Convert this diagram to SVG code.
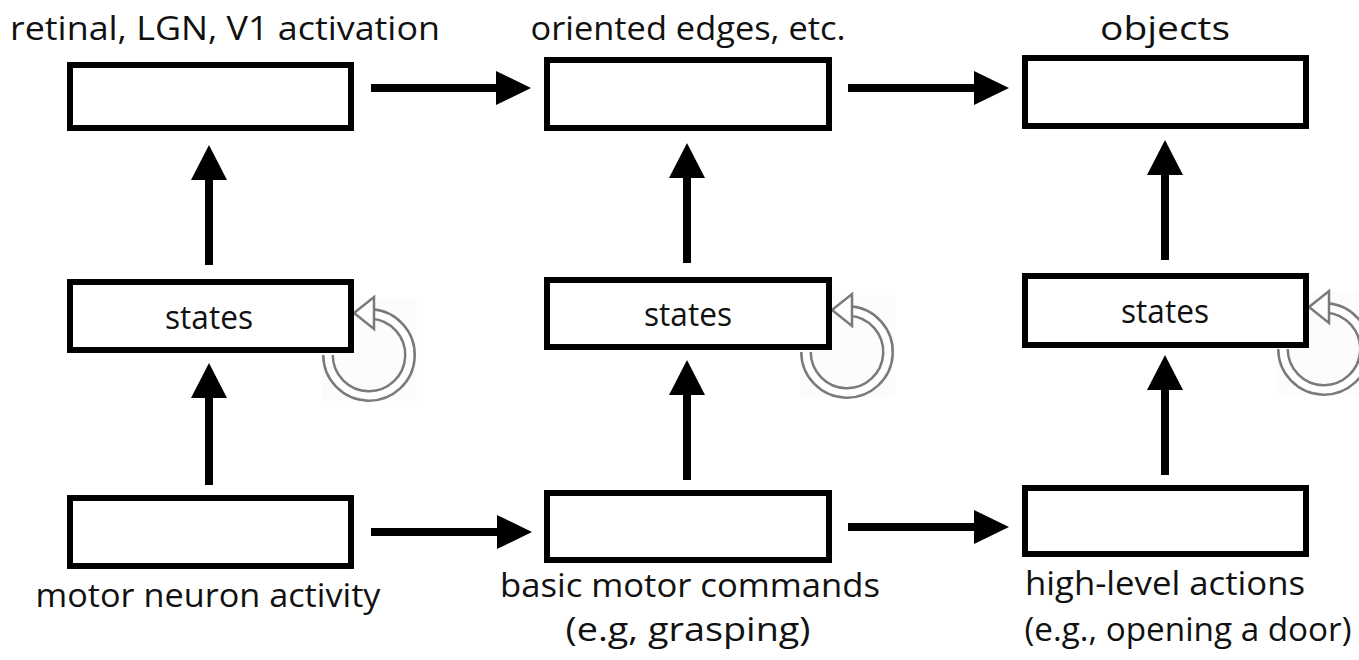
<svg xmlns="http://www.w3.org/2000/svg" width="1359" height="660" viewBox="0 0 1359 660">
  <defs>
    <style>
      .box { fill: #ffffff; stroke: #000000; stroke-width: 6; }
      .lbl { font-family: "Open Sans", Lato, "Liberation Sans", sans-serif; font-size: 33px; fill: #111111; text-anchor: middle; }
      .link { stroke: #000000; stroke-width: 8; fill: none; }
      .head { fill: #000000; }
      .ring-out { fill: none; stroke: #7a7a7a; stroke-width: 12; }
      .ring-in { fill: none; stroke: #ffffff; stroke-width: 7; }
      .tri { fill: #ffffff; stroke: #7a7a7a; stroke-width: 2.5; stroke-linejoin: miter; }
      .pad { fill: #fcfcfc; }
    </style>
    <!-- recurrent loop icon, centred on its ring -->
    <g id="loop">
      <rect class="pad" x="-47" y="-57" width="95" height="103"/>
      <path class="ring-out" d="M 3 -41 A 41 41 0 1 1 -41 0"/>
      <path class="ring-in" d="M 3 -41 A 41 41 0 1 1 -41 0"/>
      <path class="tri" d="M -15 -42 L 5 -58 L 5 -26 Z"/>
    </g>
  </defs>

  <!-- self-loops drawn first so the state boxes sit on top -->
  <g id="loops">
    <use href="#loop" x="369" y="355"/>
    <use href="#loop" x="847" y="352"/>
    <use href="#loop" x="1324" y="349"/>
  </g>

  <g id="connectors">
    <!-- top row, left to right -->
    <line class="link" x1="371" y1="88" x2="500" y2="88"/>
    <polygon class="head" points="496,71 531,88 496,105"/>
    <line class="link" x1="848" y1="88" x2="978" y2="88"/>
    <polygon class="head" points="974,71 1009,88 974,105"/>
    <!-- bottom row, left to right -->
    <line class="link" x1="371" y1="532" x2="500" y2="532"/>
    <polygon class="head" points="497,515 532,532 497,549"/>
    <line class="link" x1="848" y1="527" x2="978" y2="527"/>
    <polygon class="head" points="974,510 1009,527 974,544"/>
    <!-- column 1, upward -->
    <line class="link" x1="209" y1="265" x2="209" y2="175"/>
    <polygon class="head" points="191,180 209,145 227,180"/>
    <line class="link" x1="209" y1="485" x2="209" y2="395"/>
    <polygon class="head" points="191,398 209,363 227,398"/>
    <!-- column 2, upward -->
    <line class="link" x1="687" y1="263" x2="687" y2="175"/>
    <polygon class="head" points="669,178 687,143 705,178"/>
    <line class="link" x1="687" y1="480" x2="687" y2="392"/>
    <polygon class="head" points="669,395 687,360 705,395"/>
    <!-- column 3, upward -->
    <line class="link" x1="1165" y1="260" x2="1165" y2="172"/>
    <polygon class="head" points="1147,175 1165,140 1183,175"/>
    <line class="link" x1="1165" y1="475" x2="1165" y2="387"/>
    <polygon class="head" points="1147,390 1165,355 1183,390"/>
  </g>

  <g id="retinal">
    <rect class="box" x="70" y="65" width="281" height="63"/>
    <text class="lbl" x="225" y="40" textLength="430" lengthAdjust="spacingAndGlyphs">retinal, LGN, V1 activation</text>
  </g>
  <g id="edges">
    <rect class="box" x="547" y="60" width="282" height="68"/>
    <text class="lbl" x="688" y="40" textLength="315" lengthAdjust="spacingAndGlyphs">oriented edges, etc.</text>
  </g>
  <g id="objects">
    <rect class="box" x="1025" y="58" width="281" height="68"/>
    <text class="lbl" x="1165" y="40" textLength="130" lengthAdjust="spacingAndGlyphs">objects</text>
  </g>

  <g id="states1">
    <rect class="box" x="70" y="282" width="281" height="68"/>
    <text class="lbl" x="209" y="329" textLength="88" lengthAdjust="spacingAndGlyphs">states</text>
  </g>
  <g id="states2">
    <rect class="box" x="547" y="280" width="282" height="67"/>
    <text class="lbl" x="688" y="326" textLength="88" lengthAdjust="spacingAndGlyphs">states</text>
  </g>
  <g id="states3">
    <rect class="box" x="1025" y="276" width="281" height="69"/>
    <text class="lbl" x="1165" y="323" textLength="88" lengthAdjust="spacingAndGlyphs">states</text>
  </g>

  <g id="motor">
    <rect class="box" x="70" y="498" width="281" height="68"/>
    <text class="lbl" x="208" y="607" textLength="345" lengthAdjust="spacingAndGlyphs">motor neuron activity</text>
  </g>
  <g id="commands">
    <rect class="box" x="547" y="493" width="282" height="67"/>
    <text class="lbl" x="690" y="597" textLength="380" lengthAdjust="spacingAndGlyphs">basic motor commands</text>
    <text class="lbl" x="688" y="641" textLength="245" lengthAdjust="spacingAndGlyphs">(e.g, grasping)</text>
  </g>
  <g id="actions">
    <rect class="box" x="1025" y="488" width="281" height="66"/>
    <text class="lbl" x="1165" y="595" textLength="280" lengthAdjust="spacingAndGlyphs">high-level actions</text>
    <text class="lbl" x="1188" y="641" textLength="327" lengthAdjust="spacingAndGlyphs">(e.g., opening a door)</text>
  </g>
</svg>
